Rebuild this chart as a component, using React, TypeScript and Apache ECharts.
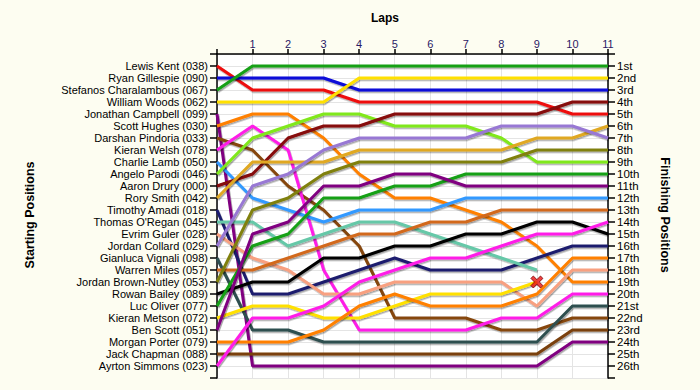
import React, { useEffect, useRef } from "react";
import * as echarts from "echarts";

const lapNumbers = [0, 1, 2, 3, 4, 5, 6, 7, 8, 9, 10, 11];

const startNames = [
  "Lewis Kent (038)",
  "Ryan Gillespie (090)",
  "Stefanos Charalambous (067)",
  "William Woods (062)",
  "Jonathan Campbell (099)",
  "Scott Hughes (030)",
  "Darshan Pindoria (033)",
  "Kieran Welsh (078)",
  "Charlie Lamb (050)",
  "Angelo Parodi (046)",
  "Aaron Drury (000)",
  "Rory Smith (042)",
  "Timothy Amadi (018)",
  "Thomas O'Regan (045)",
  "Evrim Guler (028)",
  "Jordan Collard (029)",
  "Gianluca Vignali (098)",
  "Warren Miles (057)",
  "Jordan Brown-Nutley (053)",
  "Rowan Bailey (089)",
  "Luc Oliver (077)",
  "Kieran Metson (072)",
  "Ben Scott (051)",
  "Morgan Porter (079)",
  "Jack Chapman (088)",
  "Ayrton Simmons (023)",
];

const finishLabels = [
  "1st", "2nd", "3rd", "4th", "5th", "6th", "7th", "8th", "9th", "10th",
  "11th", "12th", "13th", "14th", "15th", "16th", "17th", "18th", "19th", "20th",
  "21st", "22nd", "23rd", "24th", "25th", "26th",
];

// positions per lap (lap 0 = start)
const kent = [1, 3, 3, 3, 4, 4, 4, 4, 4, 4, 5, 5];
const gillespie = [2, 2, 2, 2, 3, 3, 3, 3, 3, 3, 3, 3];
const charalambous = [3, 1, 1, 1, 1, 1, 1, 1, 1, 1, 1, 1];
const woods = [4, 4, 4, 4, 2, 2, 2, 2, 2, 2, 2, 2];
const campbell = [5, 26, 26, 26, 26, 26, 26, 26, 26, 26, 24, 24];
const hughes = [6, 5, 5, 7, 10, 12, 12, 13, 14, 16, 19, 19];
const pindoria = [7, 8, 11, 13, 16, 22, 22, 22, 23, 23, 22, 22];
const welsh = [8, 6, 8, 18, 23, 23, 23, 23, 22, 22, 20, 20];
const lamb = [9, 12, 13, 14, 13, 13, 13, 12, 12, 12, 12, 12];
const parodi = [10, 7, 6, 5, 5, 6, 6, 6, 7, 9, 9, 9];
const drury = [11, 10, 7, 6, 6, 5, 5, 5, 5, 5, 4, 4];
const smith = [12, 9, 9, 9, 8, 8, 8, 8, 8, 7, 7, 6];
const amadi = [13, 20, 20, 19, 18, 17, 18, 18, 18, 17, 16, 16];
const oregan = [14, 14, 16, 15, 14, 14, 15, 16, 17, 18];
const guler = [15, 17, 18, 20, 20, 19, 19, 19, 19, 21, 18, 18];
const collard = [16, 11, 10, 8, 7, 7, 7, 7, 6, 6, 6, 7];
const vignali = [17, 23, 23, 24, 24, 24, 24, 24, 24, 24, 21, 21];
const miles = [18, 18, 17, 16, 15, 15, 14, 14, 13, 13, 13, 13];
const brownNutley = [19, 13, 12, 10, 9, 9, 9, 9, 9, 8, 8, 8];
const bailey = [20, 19, 19, 17, 17, 16, 16, 15, 15, 14, 14, 15];
const oliver = [21, 16, 15, 12, 12, 11, 11, 10, 10, 10, 10, 10];
const metson = [22, 21, 21, 22, 22, 21, 20, 20, 20, 19];
const scott = [23, 15, 14, 11, 11, 10, 10, 11, 11, 11, 11, 11];
const porter = [24, 24, 24, 23, 21, 20, 21, 21, 21, 20, 17, 17];
const chapman = [25, 25, 25, 25, 25, 25, 25, 25, 25, 25, 23, 23];
const simmons = [26, 22, 22, 21, 19, 18, 17, 17, 16, 15, 15, 14];

const driverPositions = [
  kent, gillespie, charalambous, woods, campbell, hughes, pindoria, welsh, lamb,
  parodi, drury, smith, amadi, oregan, guler, collard, vignali, miles, brownNutley,
  bailey, oliver, metson, scott, porter, chapman, simmons,
];

// retirement marker (Kieran Metson)
const crashLap = [9];
const crashPos = [19];

const palette = [
  "#ee1111", "#0a0ad8", "#14a014", "#ffe000", "#800080", "#ff8000", "#86460e",
  "#ff1ee8", "#3399ff", "#80e81a", "#860808", "#e0a820", "#1e1e6e", "#66c8a8",
  "#f8a080", "#9878d4", "#2f4f4f", "#d2691e", "#808010", "#000000", "#14a014",
  "#ffe000", "#800080", "#ff8000", "#7a3f0a", "#ff1ee8",
];

const FONT = "Arial, sans-serif";

export default function App() {
  const ref = useRef<HTMLDivElement>(null);

  useEffect(() => {
    if (!ref.current) return;
    const chart = echarts.init(ref.current, null, { renderer: "svg" });

    const lineSeries = driverPositions.map((pos, i) => ({
      type: "line",
      name: startNames[i],
      data: pos.map((p, lap) => [lapNumbers[lap], p]),
      symbol: "none",
      showSymbol: false,
      silent: true,
      z: 2,
      lineStyle: {
        color: palette[i],
        width: 3,
        shadowColor: "rgba(0,0,0,0.35)",
        shadowBlur: 1,
        shadowOffsetX: 1,
        shadowOffsetY: 1.5,
      },
      itemStyle: { color: palette[i] },
      emphasis: { disabled: true },
    }));

    chart.setOption({
      animation: false,
      backgroundColor: "#fdfdf1",
      grid: {
        left: 217,
        right: 92,
        top: 54,
        bottom: 12,
        show: true,
        backgroundColor: "#ffffff",
        borderWidth: 0,
        containLabel: false,
        outerBoundsMode: "none",
      },
      xAxis: {
        type: "value",
        position: "top",
        min: 0,
        max: 11,
        interval: 1,
        axisLine: { show: true, onZero: false, lineStyle: { color: "#000", width: 1.5 } },
        axisTick: { show: true, length: 5, lineStyle: { color: "#000", width: 1.5 } },
        axisLabel: {
          fontFamily: FONT,
          fontSize: 11,
          color: "#2a1a66",
          margin: 5,
          formatter: (v: number) => (v === 0 ? "" : String(v)),
        },
        splitLine: { show: true, lineStyle: { color: "#e4e4e4", width: 1 } },
      },
      yAxis: [
        {
          type: "value",
          position: "left",
          inverse: true,
          min: 0,
          max: 27,
          interval: 1,
          axisLine: { show: true, onZero: false, lineStyle: { color: "#000", width: 1.5 } },
          axisTick: { show: true, length: 7, lineStyle: { color: "#000", width: 1.5 } },
          axisLabel: {
            fontFamily: FONT,
            fontSize: 11,
            color: "#000",
            margin: 9,
            lineHeight: 11,
            formatter: (v: number) => startNames[v - 1] ?? "",
          },
          splitLine: { show: true, lineStyle: { color: "#e4e4e4", width: 1 } },
        },
        {
          type: "value",
          position: "right",
          inverse: true,
          min: 0,
          max: 27,
          interval: 1,
          axisLine: { show: true, onZero: false, lineStyle: { color: "#000", width: 1.5 } },
          axisTick: { show: true, length: 7, lineStyle: { color: "#000", width: 1.5 } },
          axisLabel: {
            fontFamily: FONT,
            fontSize: 11.5,
            color: "#000",
            margin: 9,
            lineHeight: 11,
            formatter: (v: number) => finishLabels[v - 1] ?? "",
          },
          splitLine: { show: false },
        },
      ],
      graphic: [
        {
          type: "text",
          x: 385,
          y: 18,
          style: {
            text: "Laps",
            font: `bold 12px ${FONT}`,
            fill: "#000",
            align: "center",
            verticalAlign: "middle",
          },
        },
        {
          type: "text",
          x: 30,
          y: 215,
          rotation: Math.PI / 2,
          style: {
            text: "Starting Positions",
            font: `bold 12.5px ${FONT}`,
            fill: "#000",
            align: "center",
            verticalAlign: "middle",
          },
        },
        {
          type: "text",
          x: 665,
          y: 215,
          rotation: -Math.PI / 2,
          style: {
            text: "Finishing Positions",
            font: `bold 12.5px ${FONT}`,
            fill: "#000",
            align: "center",
            verticalAlign: "middle",
          },
        },
      ],
      series: [
        ...lineSeries,
        {
          type: "scatter",
          data: crashLap.map((l, i) => [l, crashPos[i]]),
          symbol:
            "path://M2,0 L5,3 L8,0 L10,2 L7,5 L10,8 L8,10 L5,7 L2,10 L0,8 L3,5 L0,2 Z",
          symbolSize: 12,
          silent: true,
          z: 5,
          itemStyle: { color: "#e81010", borderColor: "#7a0000", borderWidth: 1 },
        },
      ],
    });

    return () => chart.dispose();
  }, []);

  return (
    <div
      ref={ref}
      style={{ position: "fixed", left: 0, top: 0, width: 700, height: 390 }}
    />
  );
}
